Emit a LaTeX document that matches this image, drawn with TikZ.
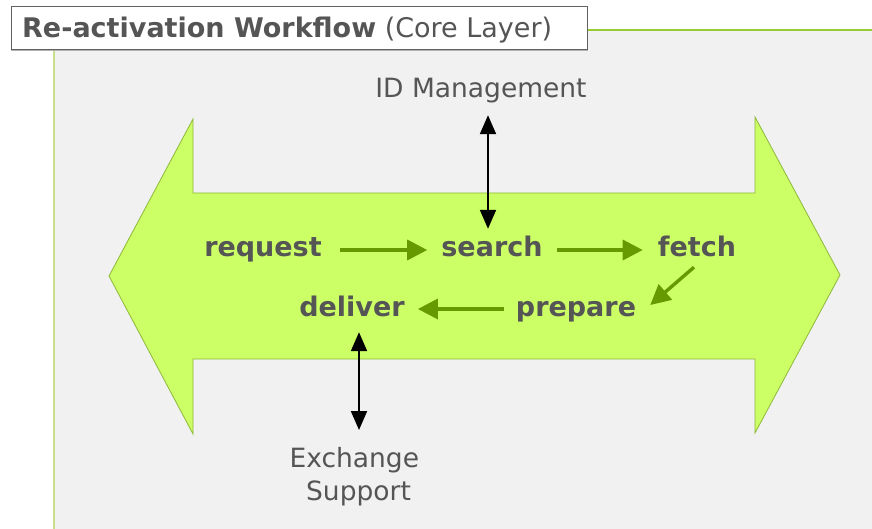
\documentclass[tikz,border=0pt]{standalone}
\usepackage{fontspec}
\setmainfont{DejaVu Sans}
\usetikzlibrary{arrows.meta,calc}
\definecolor{txtgray}{HTML}{555555}
\definecolor{panelgray}{HTML}{F1F1F1}
\definecolor{arrowfill}{HTML}{CCFF66}
\definecolor{arrowline}{HTML}{8DB83A}
\definecolor{flowgreen}{HTML}{669900}
\definecolor{edgegreen}{HTML}{99CC33}
\definecolor{edgelight}{HTML}{C8E08C}
\tikzset{
  stepnode/.style={font=\bfseries\fontsize{27}{32}\selectfont, text=txtgray, inner sep=0pt, text height=20pt, text depth=6pt, anchor=base},
  sidenode/.style={font=\fontsize{26.5}{33}\selectfont, text=txtgray, inner sep=0pt, align=center, text depth=6pt, anchor=base},
  flow/.style={draw=flowgreen, line width=3.4pt, -{Triangle[length=20pt,width=20pt]}},
  link/.style={draw=black, line width=2pt, {Triangle[length=19pt,width=16pt]}-{Triangle[length=19pt,width=16pt]}}
}
\begin{document}
\begin{tikzpicture}[x=1pt,y=-1pt]
\useasboundingbox (0,0) rectangle (872,529);
\fill[white] (0,0) rectangle (872,529);
% panel
\fill[panelgray] (54,30) rectangle (872,529);
\draw[edgelight, line width=1.2pt] (54,30) -- (54,529);
\draw[edgegreen, line width=1.2pt] (54,30) -- (872,30);
% title box
\fill[black!30] (11,8) rectangle (588,51);
\node[draw=black!62, fill=white, line width=0.9pt, minimum width=576pt, minimum height=43pt, anchor=north west, inner sep=0pt] (title) at (10.5,6.5) {};
\node[anchor=base west, text=txtgray, inner sep=0pt, font=\fontsize{27}{32}\selectfont] (titletext) at (22,38) {\textbf{Re-activation Workflow} (Core Layer)};
% double arrow
\draw[fill=arrowfill, draw=arrowline, line width=0.8pt, line join=miter]
  (109,276) -- (193,119) -- (193,193) -- (755,193) -- (755,117) -- (840,275)
  -- (755,433) -- (755,359) -- (193,359) -- (193,434) -- cycle;
% steps
\node[stepnode] (request) at (263,257) {request};
\node[stepnode] (search) at (492,257) {search};
\node[stepnode] (fetch) at (697,257) {fetch};
\node[stepnode] (deliver) at (352,316) {deliver};
\node[stepnode] (prepare) at (576,316) {prepare};
% side texts
\node[sidenode] (idm) at (481,98) {ID Management};
\node[sidenode] (exch) at (358.5,500) {\mbox{Exchange\ }\\Support};
% flow arrows
\draw[flow, shorten <=18pt, shorten >=14pt] (request.east) -- (search.west);
\draw[flow, shorten <=14pt, shorten >=15pt] (search.east) -- (fetch.west);
\draw[flow, shorten <=12pt, shorten >=13pt] (prepare.west) -- (deliver.east);
\draw[flow] ($(fetch.south)+(-3,4)$) -- ($(prepare.east)+(14,-4)$);
% links
\draw[link] ($(idm.south)+(7,11)$) -- ($(search.north)+(-4,-8)$);
\draw[link] ($(deliver.south)+(7,10)$) -- ($(exch.base)+(0.5,-70)$);
\end{tikzpicture}
\end{document}
